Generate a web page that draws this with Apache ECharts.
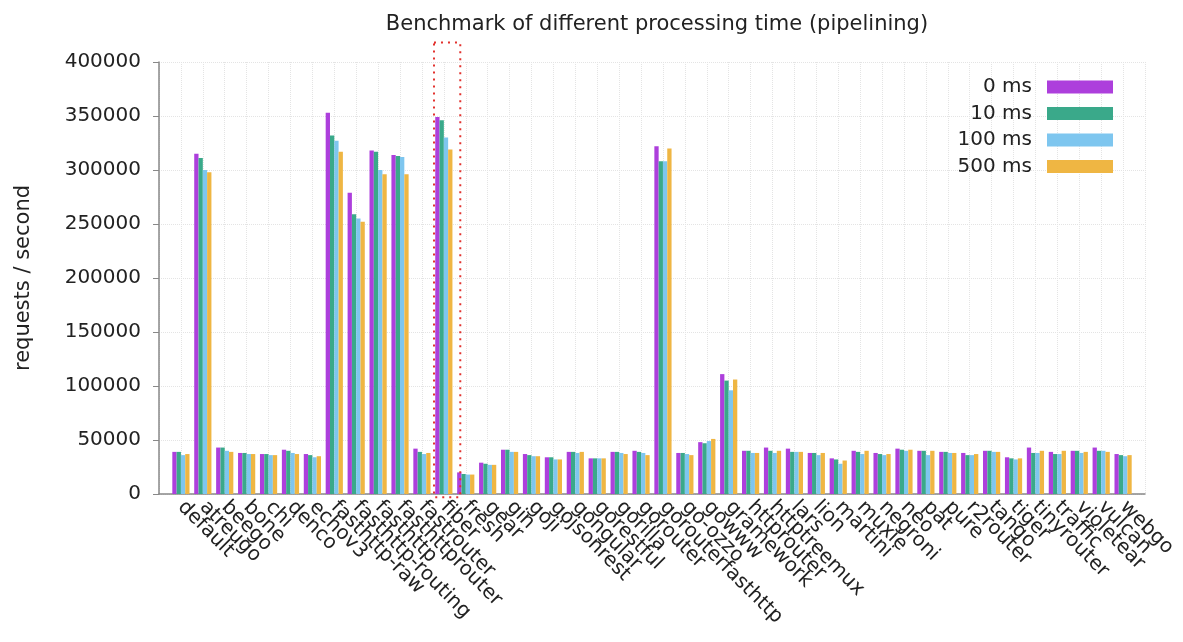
<!DOCTYPE html>
<html>
<head>
<meta charset="utf-8">
<script src="https://cdn.jsdelivr.net/npm/echarts@6/dist/echarts.min.js"></script>
<style>
  html, body { margin: 0; padding: 0; background: #fff; }
  #chart { width: 1183px; height: 642px; }
</style>
</head>
<body>
<div id="chart"></div>
<script>
var myChart = echarts.init(document.querySelector("div"));

const categories = [
  "default", "atreugo", "beego", "bone", "chi", "denco", "echov3",
  "fasthttp-raw", "fasthttp-routing", "fasthttp", "fasthttprouter", "fastrouter",
  "fiber", "fresh", "gear", "gin", "goji", "gojsonrest", "gongular",
  "gorestful", "gorilla", "gorouter", "gorouterfasthttp", "go-ozzo", "gowww",
  "gramework", "httprouter", "httptreemux", "lars", "lion", "martini", "muxie",
  "negroni", "neo", "pat", "pure", "r2router", "tango", "tiger", "tinyrouter",
  "traffic", "violetear", "vulcan", "webgo",
];
const seriesNames = ["0 ms", "10 ms", "100 ms", "500 ms"];
const ms0 = [
  39000, 315000, 43000, 38000, 37000, 41000, 37000, 353000, 279000, 318000, 314000, 42000,
  349000, 20000, 29000, 41000, 37000, 34000, 39000, 33000, 39000, 40000, 322000, 38000,
  48000, 111000, 40000, 43000, 42000, 38000, 33000, 40000, 38000, 42000, 40000, 39000,
  38000, 40000, 34000, 43000, 39000, 40000, 43000, 37000,
];
const ms10 = [
  39000, 311000, 43000, 38000, 37000, 40000, 36000, 332000, 259000, 317000, 313000, 39000,
  346000, 18500, 28000, 41000, 36000, 34000, 39000, 33000, 39000, 39000, 308000, 38000,
  47000, 105000, 40000, 40000, 39000, 38000, 32000, 39000, 37000, 41000, 40000, 39000,
  36000, 40000, 33000, 38000, 37000, 40000, 40000, 36000,
];
const ms100 = [
  36000, 300000, 40000, 37000, 36000, 38000, 34000, 327000, 255000, 300000, 312000, 37000,
  330000, 18000, 27000, 39000, 35000, 32000, 38000, 33000, 38000, 38000, 308000, 37000,
  49000, 96000, 38000, 38000, 39000, 36000, 28000, 37000, 36000, 40000, 36000, 38000,
  36000, 39000, 32000, 38000, 37000, 38000, 40000, 35000,
];
const ms500 = [
  37000, 298000, 39000, 37000, 36000, 37000, 35000, 317000, 252000, 296000, 296000, 38000,
  319000, 18000, 27000, 39000, 35000, 32000, 39000, 33000, 37000, 36000, 320000, 36000,
  51000, 106000, 38000, 40000, 39000, 38000, 31000, 40000, 37000, 41000, 40000, 38000,
  37000, 39000, 33000, 40000, 40000, 39000, 39000, 36000,
];
const colors = ["#ad3fdc", "#3aa98a", "#7ec6ef", "#efb643"];
const highlight = "fiber";

const font = "DejaVu Sans";
const hi = categories.indexOf(highlight);

const series = [ms0, ms10, ms100, ms500].map((arr, k) => ({
  name: seriesNames[k],
  type: "bar",
  data: arr.map((v, i) => [i, v]),
  barWidth: 4.3,
  barGap: "0%",
  itemStyle: { color: colors[k] },
}));

const option = {
  animation: false,
  backgroundColor: "#fff",
  title: {
    text: "Benchmark of different processing time (pipelining)",
    left: 652,
    textAlign: "center",
    top: 9,
    textStyle: { fontFamily: font, fontSize: 21, fontWeight: "normal", color: "#222" },
  },
  legend: {
    orient: "vertical",
    right: 65,
    top: 72,
    align: "right",
    icon: "rect",
    itemWidth: 66,
    itemHeight: 13,
    itemGap: 6.5,
    textStyle: { fontFamily: font, fontSize: 20, color: "#222", lineHeight: 20, padding: [0, 10, 0, 0] },
    data: seriesNames,
  },
  grid: { left: 159, right: 38, top: 62, bottom: 148 },
  xAxis: {
    type: "value",
    min: -1,
    max: 44,
    interval: 1,
    axisLine: { show: true, onZero: false, lineStyle: { color: "#888", width: 1.5 } },
    axisTick: { show: false },
    splitLine: { show: true, lineStyle: { color: "#e4e4e4", type: "dotted" } },
    axisLabel: {
      rotate: -45,
      margin: 10,
      fontFamily: font,
      fontSize: 20,
      color: "#222",
      formatter: (v) => categories[v] || "",
    },
  },
  yAxis: {
    type: "value",
    min: 0,
    max: 400000,
    interval: 50000,
    name: "requests / second",
    nameLocation: "middle",
    nameGap: 125,
    nameTextStyle: { fontFamily: font, fontSize: 21, color: "#222" },
    axisLine: { show: true, onZero: false, lineStyle: { color: "#888", width: 1.5 } },
    axisTick: { show: true, length: 6, lineStyle: { color: "#888" } },
    splitLine: { show: true, lineStyle: { color: "#e4e4e4", type: "dotted" } },
    axisLabel: { fontFamily: font, fontSize: 20, color: "#222", margin: 18, formatter: (v) => String(v) },
  },
  series: series,
};

myChart.setOption(option);

// red dotted box round the highlighted framework, placed through the axes
const p1 = myChart.convertToPixel({ gridIndex: 0 }, [hi - 0.45, 418000]);
const p2 = myChart.convertToPixel({ gridIndex: 0 }, [hi + 0.75, -3000]);
myChart.setOption({
  graphic: [{
    type: "rect",
    silent: true,
    shape: { x: p1[0], y: p1[1], width: p2[0] - p1[0], height: p2[1] - p1[1] },
    style: { fill: "none", stroke: "#e2322e", lineWidth: 2, lineDash: [2, 5] },
    z: 10,
  }],
});
</script>
</body>
</html>
